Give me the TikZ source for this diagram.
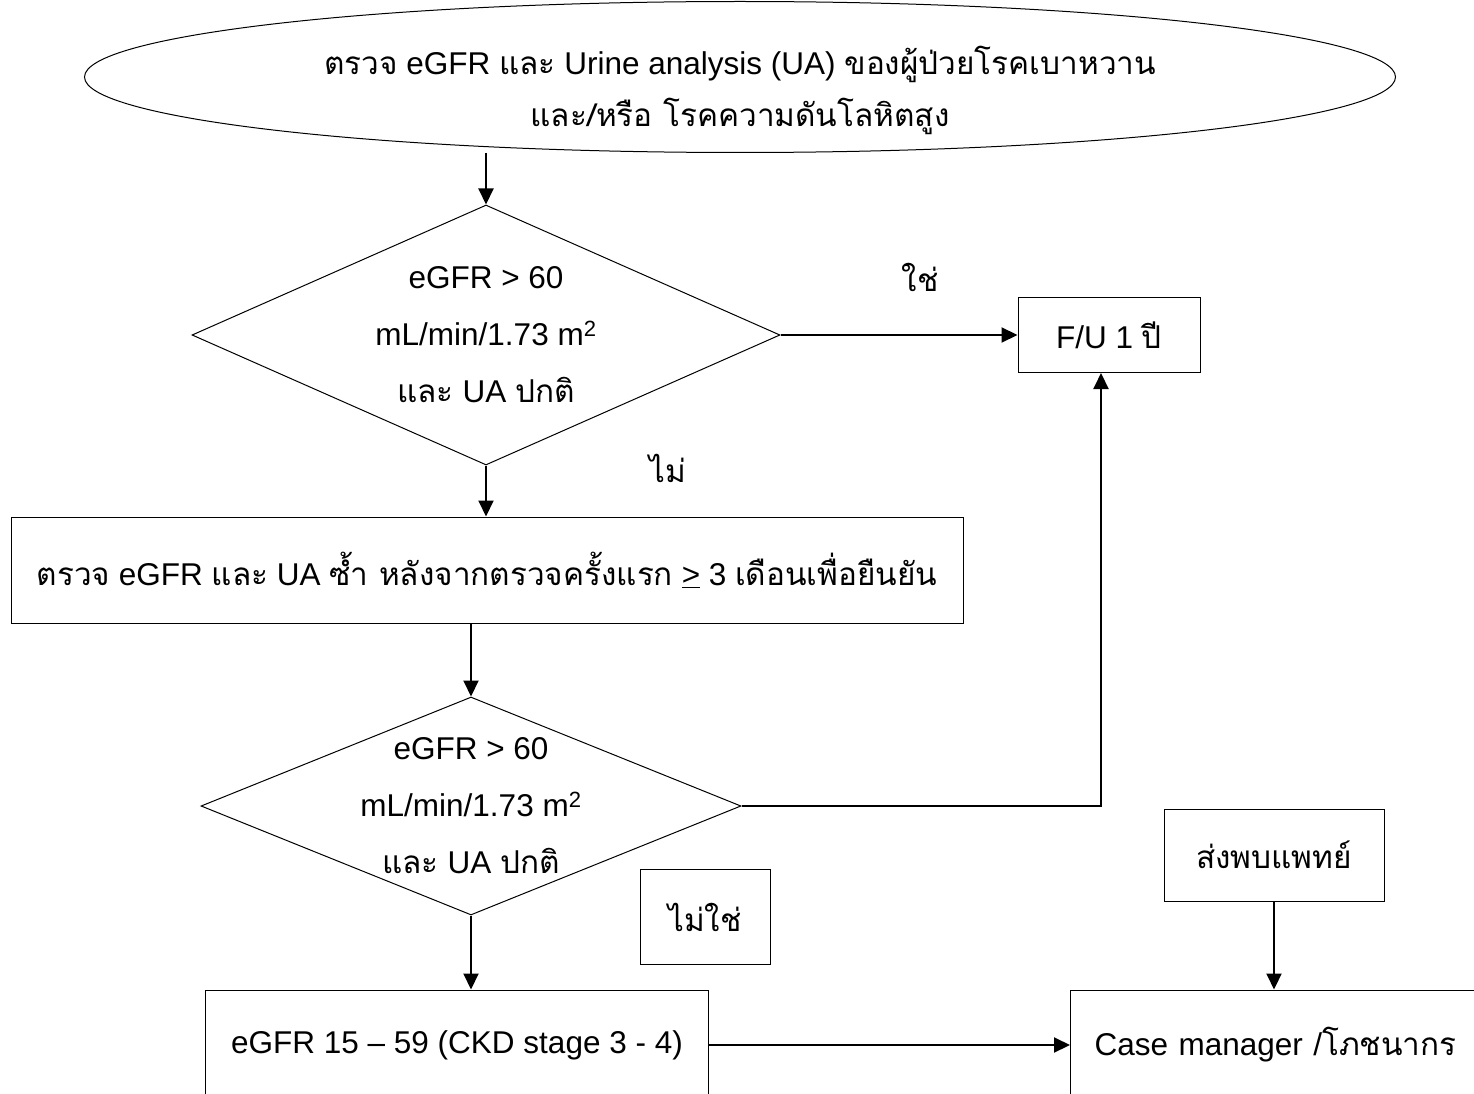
\documentclass[tikz,border=0pt]{standalone}
\usepackage{fontspec}
\setmainfont{Liberation Sans}
\newfontfamily\thaifont[Script=Thai]{Loma}
\newcommand{\tht}[1]{{\thaifont #1}}
\usetikzlibrary{shapes.geometric,arrows.meta,positioning,calc}

\begin{document}
\begin{tikzpicture}[x=1pt, y=-1pt,
    every node/.style={font=\fontsize{31.5}{36}\selectfont},
    box/.style={rectangle, draw, line width=1pt, inner sep=0pt},
    decision/.style={diamond, draw, line width=1pt, inner sep=0pt},
    inside/.style={align=center, font=\fontsize{31.5}{57}\selectfont},
    flow/.style={->, line width=2pt},
    >={Triangle[length=16pt,width=15pt]}]
    \useasboundingbox (0,0) rectangle (1474,1094);

    \node (start) [ellipse, draw, line width=1pt, minimum width=1311pt, minimum height=151pt, inner sep=0pt,
        label={[inside, font=\fontsize{31.5}{52}\selectfont, yshift=-13pt]center:{\tht{ตรวจ} eGFR \tht{และ} Urine analysis (UA) \tht{ของผู้ป่วยโรคเบาหวาน}\\ \tht{และ/หรือ โรคความดันโลหิตสูง}}}] at (740,77) {};
    \node (check1) [decision, minimum width=588pt, minimum height=260pt,
        label={[inside]center:{eGFR > 60\\ mL/min/1.73 m\textsuperscript{2}\\ \tht{และ} UA \tht{ปกติ}}}] at (486,335) {};
    \node (followup) [box, minimum width=182pt, minimum height=75pt] at (1109,335) {F/U 1 \tht{ปี}};
    \node (recheck) [box, minimum width=952pt, minimum height=106pt] at (487,570)
        {\tht{ตรวจ} eGFR \tht{และ} UA \tht{ซ้ำ หลังจากตรวจครั้งแรก} \underline{>} 3 \tht{เดือนเพื่อยืนยัน}};
    \node (check2) [decision, minimum width=540pt, minimum height=218pt,
        label={[inside]center:{eGFR > 60\\ mL/min/1.73 m\textsuperscript{2}\\ \tht{และ} UA \tht{ปกติ}}}] at (471,806) {};
    \node (nolabel) [box, minimum width=130pt, minimum height=95pt] at (705,917) {\tht{ไม่ใช่}};
    \node (ckd) [box, minimum width=503pt, minimum height=110pt] at (457,1045) {eGFR 15 -- 59 (CKD stage 3 - 4)};
    \node (refer) [box, minimum width=220pt, minimum height=92pt] at (1274,855) {\tht{ส่งพบแพทย์}};
    \node (casemgr) [box, anchor=west, minimum width=420pt, minimum height=110pt, text width=372pt, inner xsep=24pt, align=left] at (1070,1045)
        {Case manager /\tht{โภชนากร}};

    \node (yes) at (920,277) {\tht{ใช่}};
    \node (no) at (668,468) {\tht{ไม่}};

    \draw[flow] (check1.north |- start.south) -- (check1.north);
    \draw[flow] (check1.east) -- (followup.west);
    \draw[flow] (check1.south) -- (check1.south |- recheck.north);
    \draw[flow] (check2.north |- recheck.south) -- (check2.north);
    \draw[flow] (check2.east) -| ([xshift=-8pt]followup.south);
    \draw[flow] (check2.south) -- (check2.south |- ckd.north);
    \draw[flow] (ckd.east) -- (casemgr.west);
    \draw[flow] (refer.south) -- (refer.south |- casemgr.north);
\end{tikzpicture}
\end{document}
